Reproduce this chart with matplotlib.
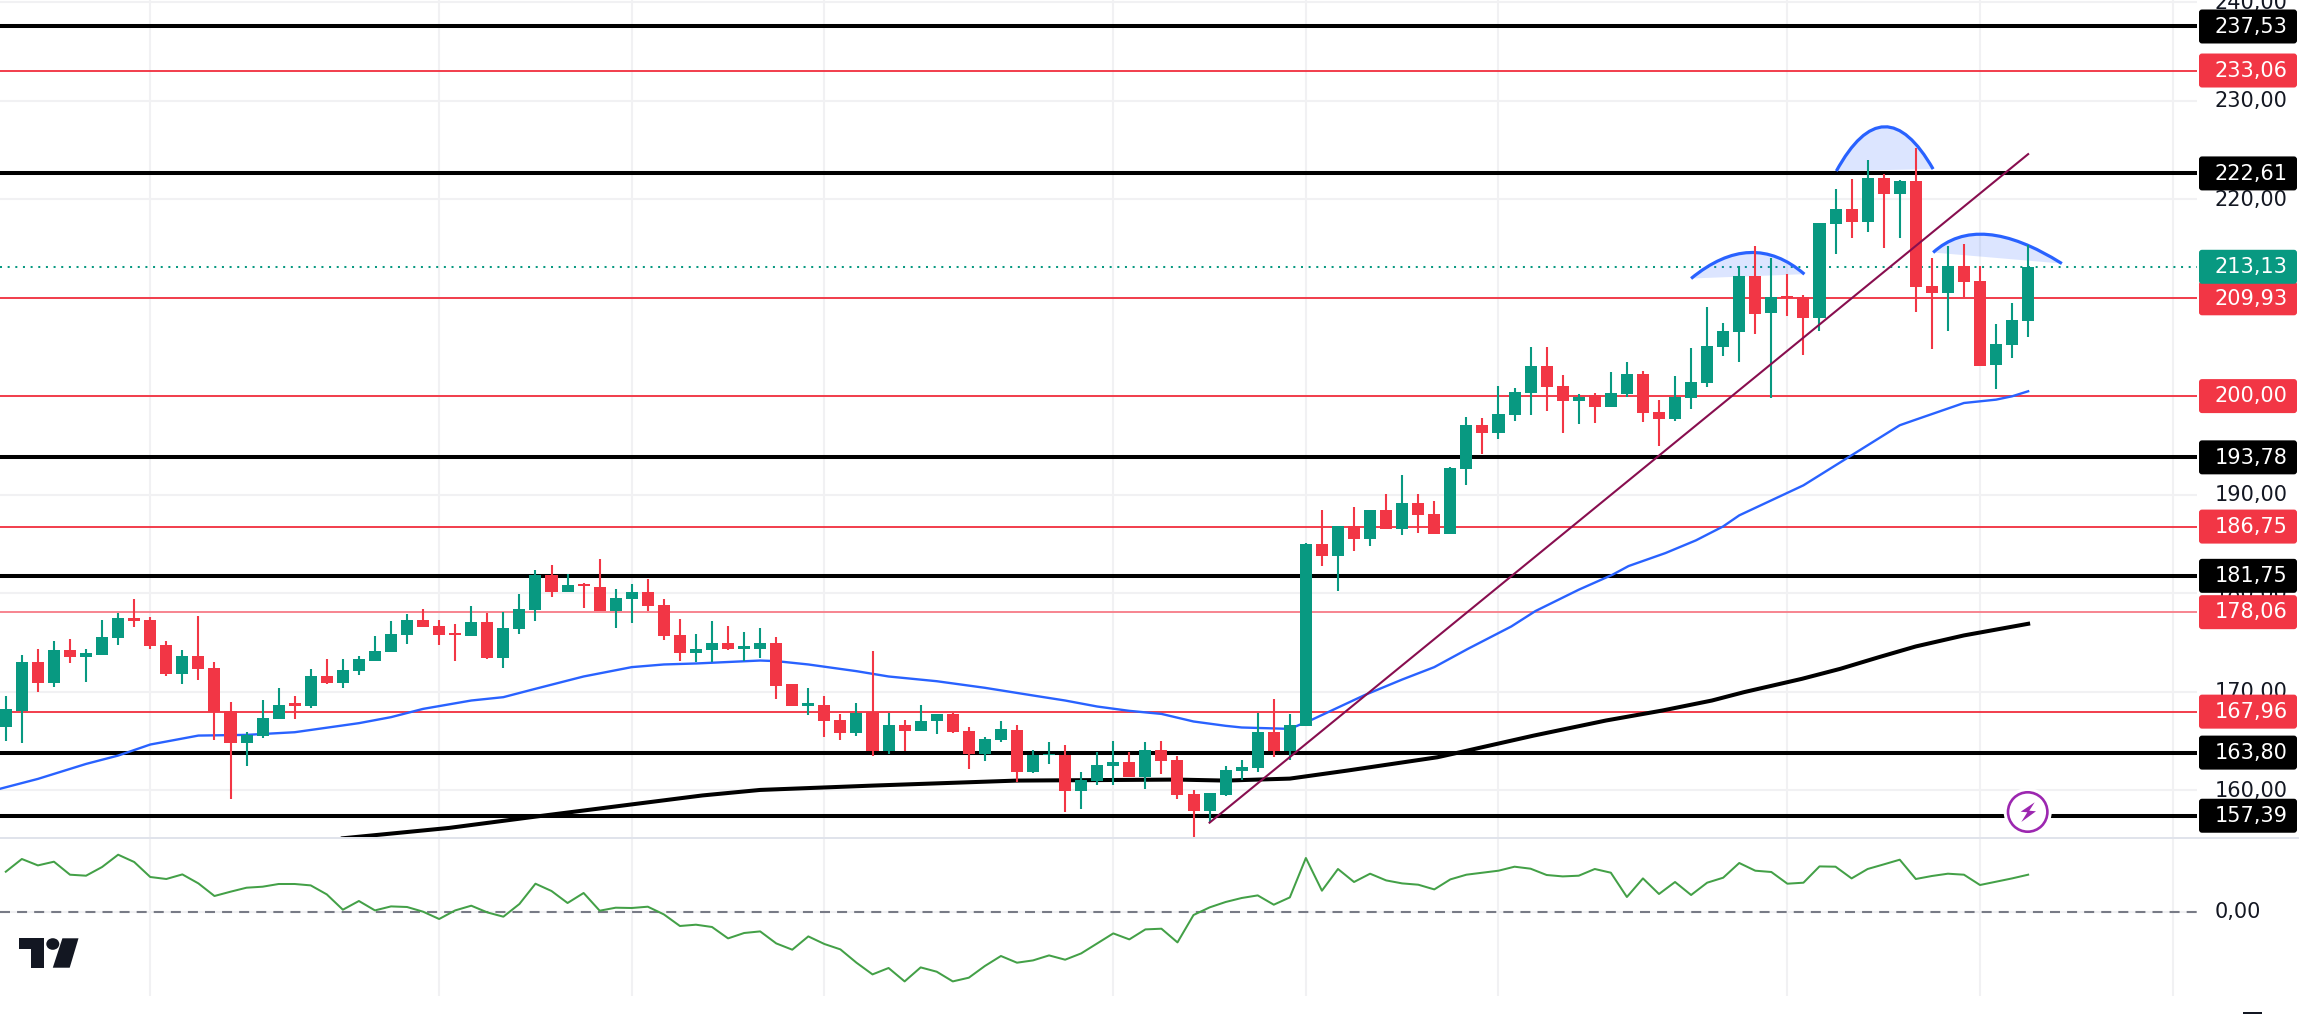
import matplotlib
matplotlib.use("Agg")
import matplotlib.pyplot as plt
from matplotlib.path import Path
from matplotlib.patches import PathPatch, FancyBboxPatch, Rectangle, Circle, Ellipse, Polygon

# candles, one entry per bar
opens = [166.35, 168.01, 173.05, 170.82, 174.17, 173.46, 173.76, 175.39, 177.42, 177.22,
         174.68, 171.83, 173.66, 172.44, 168.07, 164.82, 165.53, 167.26, 168.79, 168.58,
         171.53, 170.82, 172.04, 173.15, 173.97, 175.70, 177.22, 176.61, 175.90, 175.59,
         177.02, 173.36, 176.31, 178.24, 181.79, 180.07, 180.88, 180.57, 178.13, 179.35,
         180.07, 178.74, 175.70, 173.87, 174.17, 174.88, 174.37, 174.37, 174.98, 170.72,
         168.58, 168.68, 167.16, 165.84, 167.97, 164.01, 166.65, 166.04, 166.96, 167.67,
         166.04, 163.70, 165.13, 166.14, 161.87, 163.57, 163.60, 159.94, 160.96, 162.48,
         162.89, 161.37, 164.11, 163.09, 159.64, 157.91, 159.54, 161.98, 162.28, 165.94,
         164.01, 166.55, 184.94, 183.72, 186.77, 185.45, 188.40, 186.47, 189.11, 187.99,
         185.96, 192.56, 197.04, 196.22, 198.05, 200.29, 203.03, 201.00, 199.47, 200.08,
         198.86, 200.19, 202.22, 198.36, 197.65, 199.78, 201.30, 204.96, 206.48, 212.17,
         208.41, 210.15, 210.04, 207.91, 217.46, 218.98, 217.66, 222.13, 220.51, 221.83,
         211.16, 210.45, 213.19, 211.67, 203.13, 205.16, 207.60]
closes = [168.18, 173.05, 170.82, 174.17, 173.46, 173.87, 175.49, 177.42, 177.12, 174.58,
          171.83, 173.66, 172.34, 167.97, 164.82, 165.63, 167.36, 168.68, 168.58, 171.53,
          170.82, 172.14, 173.26, 174.07, 175.80, 177.22, 176.51, 175.70, 175.70, 177.02,
          173.36, 176.41, 178.34, 181.79, 180.07, 180.78, 180.68, 178.13, 179.46, 180.07,
          178.64, 175.59, 173.87, 174.27, 174.88, 174.27, 174.58, 174.98, 170.61, 168.58,
          168.79, 167.06, 165.84, 167.87, 164.01, 166.65, 166.04, 167.06, 167.67, 165.94,
          163.70, 165.23, 166.24, 161.87, 163.60, 163.70, 159.94, 161.06, 162.59, 162.89,
          161.37, 164.11, 162.99, 159.54, 157.91, 159.74, 162.08, 162.38, 165.94, 164.01,
          166.65, 184.94, 183.72, 186.77, 185.45, 188.40, 186.47, 189.11, 187.89, 185.96,
          192.67, 197.04, 196.22, 198.15, 200.39, 203.03, 200.90, 199.47, 199.88, 198.86,
          200.29, 202.22, 198.26, 197.65, 199.88, 201.41, 205.06, 206.59, 212.17, 208.31,
          210.04, 209.94, 207.91, 217.56, 218.98, 217.66, 222.13, 220.51, 221.83, 211.06,
          210.45, 213.19, 211.56, 203.03, 205.26, 207.70, 213.13]
highs = [169.50, 173.73, 174.27, 175.09, 175.29, 174.37, 177.22, 177.93, 179.35, 177.52,
         175.09, 174.17, 177.63, 173.05, 168.89, 165.94, 169.19, 170.31, 169.50, 172.34,
         173.26, 173.26, 173.56, 175.59, 177.12, 177.83, 178.34, 177.22, 176.81, 178.64,
         177.93, 178.03, 179.86, 182.30, 182.81, 181.89, 180.98, 183.42, 180.37, 180.88,
         181.39, 179.35, 177.32, 175.80, 177.12, 176.61, 176.00, 176.41, 175.49, 170.72,
         170.31, 169.50, 167.67, 168.79, 174.07, 167.87, 167.16, 168.68, 167.77, 167.87,
         166.45, 165.43, 166.96, 166.65, 164.11, 164.92, 164.62, 161.87, 163.91, 165.02,
         163.91, 164.92, 165.02, 163.50, 160.05, 159.74, 162.48, 163.09, 167.87, 169.29,
         167.77, 185.05, 188.40, 186.77, 188.70, 188.40, 190.02, 191.95, 190.02, 189.31,
         192.77, 197.85, 197.75, 201.00, 200.80, 204.96, 204.96, 202.12, 200.19, 200.29,
         202.42, 203.44, 202.52, 199.58, 202.02, 204.86, 209.03, 207.40, 213.19, 215.22,
         214.00, 212.38, 210.25, 217.56, 221.02, 222.03, 223.96, 222.54, 221.93, 225.18,
         214.00, 215.22, 215.43, 213.19, 207.30, 209.43, 215.32]
lows = [165.02, 164.75, 170.00, 170.51, 172.85, 171.02, 173.76, 174.68, 176.51, 174.37,
        171.53, 170.72, 171.22, 165.13, 159.13, 162.48, 165.33, 167.26, 167.26, 168.38,
        170.72, 170.31, 171.73, 173.15, 173.97, 174.78, 176.51, 174.68, 173.15, 175.59,
        173.26, 172.44, 175.80, 177.12, 179.56, 180.07, 178.44, 178.13, 176.41, 176.92,
        178.13, 175.19, 173.15, 173.05, 173.05, 174.17, 173.15, 173.36, 169.29, 168.58,
        167.57, 165.43, 165.13, 165.53, 163.50, 163.70, 164.01, 166.04, 165.74, 165.84,
        162.18, 162.99, 164.92, 160.86, 161.77, 162.69, 157.81, 158.11, 160.55, 160.55,
        161.37, 160.15, 161.67, 159.13, 155.17, 156.79, 159.44, 161.06, 161.87, 163.40,
        163.09, 166.55, 182.71, 180.17, 184.23, 184.74, 186.47, 185.86, 186.06, 185.96,
        185.96, 190.94, 194.09, 195.61, 197.44, 198.05, 198.46, 196.22, 197.14, 197.24,
        198.86, 199.88, 197.34, 194.90, 197.44, 198.66, 200.90, 204.05, 203.43, 206.28,
        199.78, 208.11, 204.15, 206.58, 214.41, 216.04, 216.65, 215.02, 216.04, 208.51,
        204.76, 206.58, 210.04, 203.03, 200.69, 203.84, 205.97]

# blue moving average
blue_idx = [-0.4, 2, 5, 7, 9, 12, 15, 18, 22, 24, 26, 29, 31, 33, 36, 39, 41, 43, 47, 48, 50, 53, 55, 58,
            61, 64, 66, 68, 70, 72, 74, 76, 77, 80, 81.4, 84.7, 87, 89, 91.1, 93.8, 95.3, 98, 100.1,
            101.1, 103.4, 105.3, 107, 108, 112, 115, 118, 119, 122, 124, 125, 126]
blue_ma = [160.11, 161.13, 162.65, 163.50, 164.62, 165.53, 165.60, 165.87, 166.79, 167.40, 168.24, 169.09,
           169.43, 170.28, 171.53, 172.48, 172.75, 172.85, 173.15, 173.09, 172.75, 172.07, 171.53, 171.05,
           170.38, 169.60, 169.09, 168.48, 168.04, 167.73, 166.96, 166.52, 166.35, 166.21, 167.16, 169.67,
           171.22, 172.48, 174.34, 176.61, 178.17, 180.34, 181.86, 182.74, 184.06, 185.35, 186.77, 187.89,
           190.94, 193.99, 197.04, 197.61, 199.30, 199.64, 199.98, 200.49]

# black moving average
black_idx = [21, 27.6, 33, 43.4, 47, 54, 63, 73, 76, 80, 83.6, 89.2, 90.8, 95.2, 99.7, 103.2, 106.3,
             108.3, 111.9, 114.3, 116.7, 119, 122, 126]
black_ma = [155.10, 156.15, 157.30, 159.45, 160.01, 160.45, 160.96, 161.06, 160.96, 161.16, 161.98, 163.33,
            163.91, 165.53, 167.06, 168.07, 169.09, 169.94, 171.29, 172.31, 173.49, 174.58, 175.70, 176.88]

# lower pane
osc = [40.0, 52.7, 46.3, 50.0, 37.0, 36.0, 44.7, 57.0, 49.7, 34.7, 32.7, 37.3, 28.3, 15.7, 20.0, 24.0,
       25.0, 27.7, 27.7, 26.3, 17.3, 2.0, 10.7, 1.3, 5.3, 4.7, 0.0, -7.3, 1.3, 6.0, -0.7, -5.0, 7.7, 28.0,
       20.7, 8.7, 18.7, 1.0, 4.0, 3.7, 5.0, -2.7, -14.3, -13.0, -15.3, -26.7, -21.3, -19.7, -31.7, -38.0,
       -24.7, -32.3, -37.7, -51.0, -62.7, -56.3, -69.7, -55.7, -60.0, -69.7, -66.0, -54.3, -44.3, -51.0,
       -48.7, -43.7, -48.0, -41.7, -31.7, -21.7, -27.7, -17.7, -17.0, -30.7, -3.3, 4.3, 9.7, 13.7, 16.3,
       7.0, 14.3, 53.7, 21.0, 42.7, 29.7, 38.0, 31.3, 28.3, 27.0, 22.3, 32.3, 37.0, 39.0, 41.0, 45.0, 43.0,
       36.7, 35.3, 36.0, 42.7, 39.0, 14.7, 33.3, 17.7, 29.7, 16.7, 29.0, 34.0, 48.7, 41.0, 39.7, 28.0, 29.0,
       45.3, 45.0, 33.3, 42.7, 47.3, 52.0, 32.7, 35.7, 38.0, 37.0, 26.7, 30.0, 33.3, 37.0]

black_levels = [237.53, 222.61, 193.78, 181.75, 163.80, 157.39]
red_levels = [233.06, 209.93, 200.00, 186.75, 167.96]
faint_levels = [178.06]
last_price = 213.13
tick_prices = [160, 170, 180, 190, 200, 210, 220, 230, 240]
grid_idx = [9, 27, 39, 51, 69, 81, 93, 111, 123, 135]

trend_idx = [75, 126]
trend_price = [156.69, 224.57]
# start, middle and end of the three drawn arcs
arcs = [[(105.0, 211.94), (108.65, 214.58), (112.06, 212.38)],
        [(114.05, 222.85), (117.05, 227.35), (120.08, 223.05)],
        [(120.08, 214.58), (123.5, 216.41), (128.1, 213.46)]]

GREEN = "#089981"
RED = "#f23645"
BLACK = "#000000"
BLUE = "#2962ff"
GRID = "#f1f1f3"
TEXT = "#131722"

W, H = 2299, 1014
fig = plt.figure(figsize=(W / 100, H / 100), dpi=100, facecolor="white")
plt.rcParams["font.family"] = ["DejaVu Sans"]

ax = fig.add_axes([0, (H - 837.5) / H, 2197 / W, 837.5 / H])
ax.set_xlim(-0.361, 136.52)
ax.set_ylim(155.18, 240.22)
ax.axis("off")

low_ax = fig.add_axes([0, (H - 996) / H, 2197 / W, 157 / H])
low_ax.set_xlim(-0.361, 136.52)
low_ax.set_ylim(-84.3, 72.7)
low_ax.axis("off")

# grid
for i in grid_idx:
    ax.axvline(i, color=GRID, lw=1.5, zorder=1)
    low_ax.axvline(i, color=GRID, lw=1.5, zorder=1)
for p in tick_prices:
    ax.axhline(p, color=GRID, lw=1.5, zorder=1)
low_ax.axhline(0, color=GRID, lw=1.5, zorder=1)

# horizontal levels
for p in black_levels:
    ax.axhline(p, color=BLACK, lw=2.9, zorder=2, solid_capstyle="butt")
for p in red_levels:
    ax.axhline(p, color=RED, lw=1.35, zorder=2)
for p in faint_levels:
    ax.axhline(p, color="#f7808b", lw=1.35, zorder=2)
ax.axhline(last_price, color=GREEN, lw=1.45, ls=(0, (1, 2.8)), zorder=2)

# moving averages
ax.plot(black_idx, black_ma, color=BLACK, lw=2.9, zorder=3)
ax.plot(blue_idx, blue_ma, color=BLUE, lw=1.7, zorder=3)

# arcs
for s, m, e in arcs:
    ctrl = (2 * m[0] - (s[0] + e[0]) / 2, 2 * m[1] - (s[1] + e[1]) / 2)
    ax.add_patch(PathPatch(Path([s, ctrl, e, s], [Path.MOVETO, Path.CURVE3, Path.CURVE3, Path.CLOSEPOLY]),
                           facecolor=BLUE, alpha=0.16, edgecolor="none", zorder=3))
    ax.add_patch(PathPatch(Path([s, ctrl, e], [Path.MOVETO, Path.CURVE3, Path.CURVE3]),
                           facecolor="none", edgecolor=BLUE, lw=2.3, zorder=3.5))

# candles
for i in range(len(opens)):
    col = GREEN if closes[i] >= opens[i] else RED
    ax.vlines(i, lows[i], highs[i], color=col, lw=1.5, zorder=4)
    ax.bar(i, abs(closes[i] - opens[i]), bottom=min(opens[i], closes[i]), width=0.75,
           color=col, linewidth=0, zorder=5)

ax.plot(trend_idx, trend_price, color="#880e4f", lw=1.5, zorder=6)

# lower pane
low_ax.axhline(0, color="#787b86", lw=1.5, ls=(0, (4.8, 3.4)), zorder=2)
low_ax.plot(range(len(osc)), osc, color="#43a047", lw=1.45, zorder=3)

# overlay in pixels for the scale labels, logo and icon
over = fig.add_axes([0, 0, 1, 1])
over.set_xlim(0, W)
over.set_ylim(H, 0)
over.axis("off")
over.patch.set_alpha(0)
fig.canvas.draw()


def price_y(p):
    return H - ax.transData.transform((0, p))[1]


def fmt(p):
    return f"{p:.2f}".replace(".", ",")


# plain scale ticks sit under the level boxes
for p in tick_prices:
    over.text(2215, price_y(p) + 6.6, fmt(p), color=TEXT, fontsize=15, va="baseline", ha="left", zorder=7)
over.text(2215, H - low_ax.transData.transform((0, 0))[1] + 6.6, "0,00", color=TEXT, fontsize=15,
          va="baseline", ha="left", zorder=7)

boxes = [(p, BLACK) for p in black_levels] + [(p, RED) for p in red_levels + faint_levels] + [(last_price, GREEN)]
for p, col in boxes:
    y = price_y(p)
    over.add_patch(FancyBboxPatch((2200.5, y - 15.5), 95, 31, boxstyle="round,pad=1.5,rounding_size=3",
                                  facecolor=col, edgecolor="none", zorder=8))
    over.text(2215, y + 6.3, fmt(p), color="white", fontsize=15, va="baseline", ha="left", zorder=9)

# separator between panes
over.add_patch(Rectangle((0, 837), W, 2, facecolor="#e0e3eb", edgecolor="none", zorder=7))

# logo
over.add_patch(Polygon([(19, 938.3), (44, 938.3), (44, 967.7), (30.8, 967.7), (30.8, 949.3), (19, 949.3)],
                       facecolor=TEXT, edgecolor="none", zorder=8))
over.add_patch(Ellipse((52.8, 944), 13, 11.6, facecolor=TEXT, edgecolor="none", zorder=8))
over.add_patch(Polygon([(62.4, 938.3), (78.5, 938.3), (69.7, 967.7), (52.8, 967.7)],
                       facecolor=TEXT, edgecolor="none", zorder=8))

# lightning icon
over.add_patch(Circle((2027.7, 812), 24, facecolor="white", edgecolor="none", zorder=7))
over.add_patch(Circle((2027.7, 812), 19.7, facecolor="white", edgecolor="#9c27b0", lw=1.9, zorder=8))
over.add_patch(Polygon([(2034.7, 802.3), (2020.7, 811.7), (2027.3, 812.3), (2021.3, 822), (2036, 811.3),
                        (2029.3, 810.7)], facecolor="#9c27b0", edgecolor="none", zorder=9))

# top of the cut off corner glyph
over.add_patch(Rectangle((2243, 1012), 19, 2, facecolor=TEXT, edgecolor="none", zorder=8))

fig.savefig("out.png", dpi=100, facecolor="white")
